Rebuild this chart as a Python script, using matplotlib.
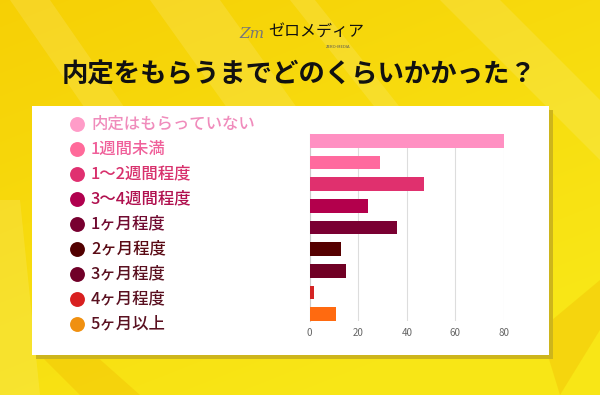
import matplotlib
matplotlib.use("Agg")
import matplotlib.pyplot as plt
import numpy as np
from matplotlib.patches import Rectangle, Polygon

plt.rcParams['font.family'] = ['Noto Sans CJK JP', 'DejaVu Sans']

title = '内定をもらうまでどのくらいかかった？'
labels = ['内定はもらっていない', '1週間未満', '1〜2週間程度', '3〜4週間程度',
          '1ヶ月程度', '2ヶ月程度', '3ヶ月程度', '4ヶ月程度', '5ヶ月以上']
values = [80, 29, 47, 24, 36, 13, 15, 2, 11]
bar_colors = ['#ff90c2', '#ff6a9e', '#e0306e', '#b3004c', '#7a0032',
              '#560000', '#700024', '#d42424', '#ff6a10']
dot_colors = ['#ff9cc8', '#ff6a9a', '#e03070', '#b0004e', '#780030',
              '#520000', '#700028', '#d82020', '#f09010']
text_colors = ['#f08cbc', '#f0609a', '#d8306c', '#b0104e', '#700a30',
               '#5a0a14', '#5a1020', '#5a1020', '#5a1020']
xticks = [0, 20, 40, 60, 80]

fig = plt.figure(figsize=(6, 3.95), dpi=100)

# background, pixel coords
bg = fig.add_axes([0, 0, 1, 1])
bg.set_xlim(0, 600)
bg.set_ylim(395, 0)
bg.axis('off')

yy, xx = np.mgrid[0:395, 0:600]
t = np.clip((xx / 600.0) * 0.45 + (yy / 395.0) * 0.75, 0, 1)
top = np.array([0.965, 0.815, 0.02])
bot = np.array([0.975, 0.905, 0.09])
img = top[None, None, :] * (1 - t[..., None]) + bot[None, None, :] * t[..., None]
bg.imshow(img, extent=(0, 600, 395, 0), aspect='auto', zorder=0)

light = [
    [(150, 0), (220, 0), (320, 140), (250, 140)],
    [(10, 0), (50, 0), (140, 130), (100, 130)],
    [(440, 0), (500, 0), (600, 100), (600, 160)],
    [(290, 0), (315, 0), (410, 120), (385, 120)],
    [(0, 200), (20, 200), (40, 395), (0, 395)],
]
for s in light:
    bg.add_patch(Polygon(s, closed=True, facecolor='white', alpha=0.12,
                         edgecolor='none', zorder=1))
dark = [
    [(40, 355), (95, 355), (140, 395), (80, 395)],
    [(540, 330), (600, 280), (600, 330), (560, 395)],
]
for s in dark:
    bg.add_patch(Polygon(s, closed=True, facecolor='#f0b800', alpha=0.35,
                         edgecolor='none', zorder=1))

# white panel with shadow
bg.add_patch(Rectangle((36, 110), 517, 249, facecolor='#cdb51c',
                       edgecolor='none', zorder=2))
bg.add_patch(Rectangle((32, 106), 517, 249, facecolor='white',
                       edgecolor='none', zorder=3))

# logo
bg.text(252, 34, 'Zm', fontsize=11, color='#777777', style='italic',
        family='DejaVu Serif', ha='center', va='center', zorder=4)
bg.text(268, 31, 'ゼロメディア', fontsize=11.5, color='#111111',
        ha='left', va='center', zorder=4)
bg.text(338, 47, 'ZERO-MEDIA', fontsize=3, color='#555555',
        ha='center', va='center', zorder=4)

# title
bg.text(299, 75, title, fontsize=19, fontweight='bold', color='#111111',
        ha='center', va='center', zorder=4)

# legend
for i, lab in enumerate(labels):
    y = 124 + i * 25
    bg.scatter([77], [y], s=115, color=dot_colors[i], zorder=4, linewidths=0)
    bg.text(91, y, lab, fontsize=11.8, fontweight='medium', color=text_colors[i],
            ha='left', va='center', zorder=4)

# bars
ax = fig.add_axes([309.5 / 600, 1 - 321 / 395, 194.5 / 600, 187 / 395])
ax.set_facecolor('none')
h = 0.63
ax.barh(range(len(values)), values, height=h, color=bar_colors, zorder=3)
ax.set_xlim(0, 80)
ax.set_ylim(len(values) - 1 + h / 2, -h / 2)
ax.set_xticks(xticks)
ax.set_yticks([])
ax.xaxis.grid(True, color='#dddddd', linewidth=0.8, zorder=0)
ax.set_axisbelow(True)
for sp in ['top', 'right', 'bottom']:
    ax.spines[sp].set_visible(False)
ax.spines['left'].set_color('#cccccc')
ax.spines['left'].set_linewidth(0.8)
ax.tick_params(axis='x', length=0, labelsize=7, colors='#666666', pad=5)

fig.savefig('out.png', dpi=100)
